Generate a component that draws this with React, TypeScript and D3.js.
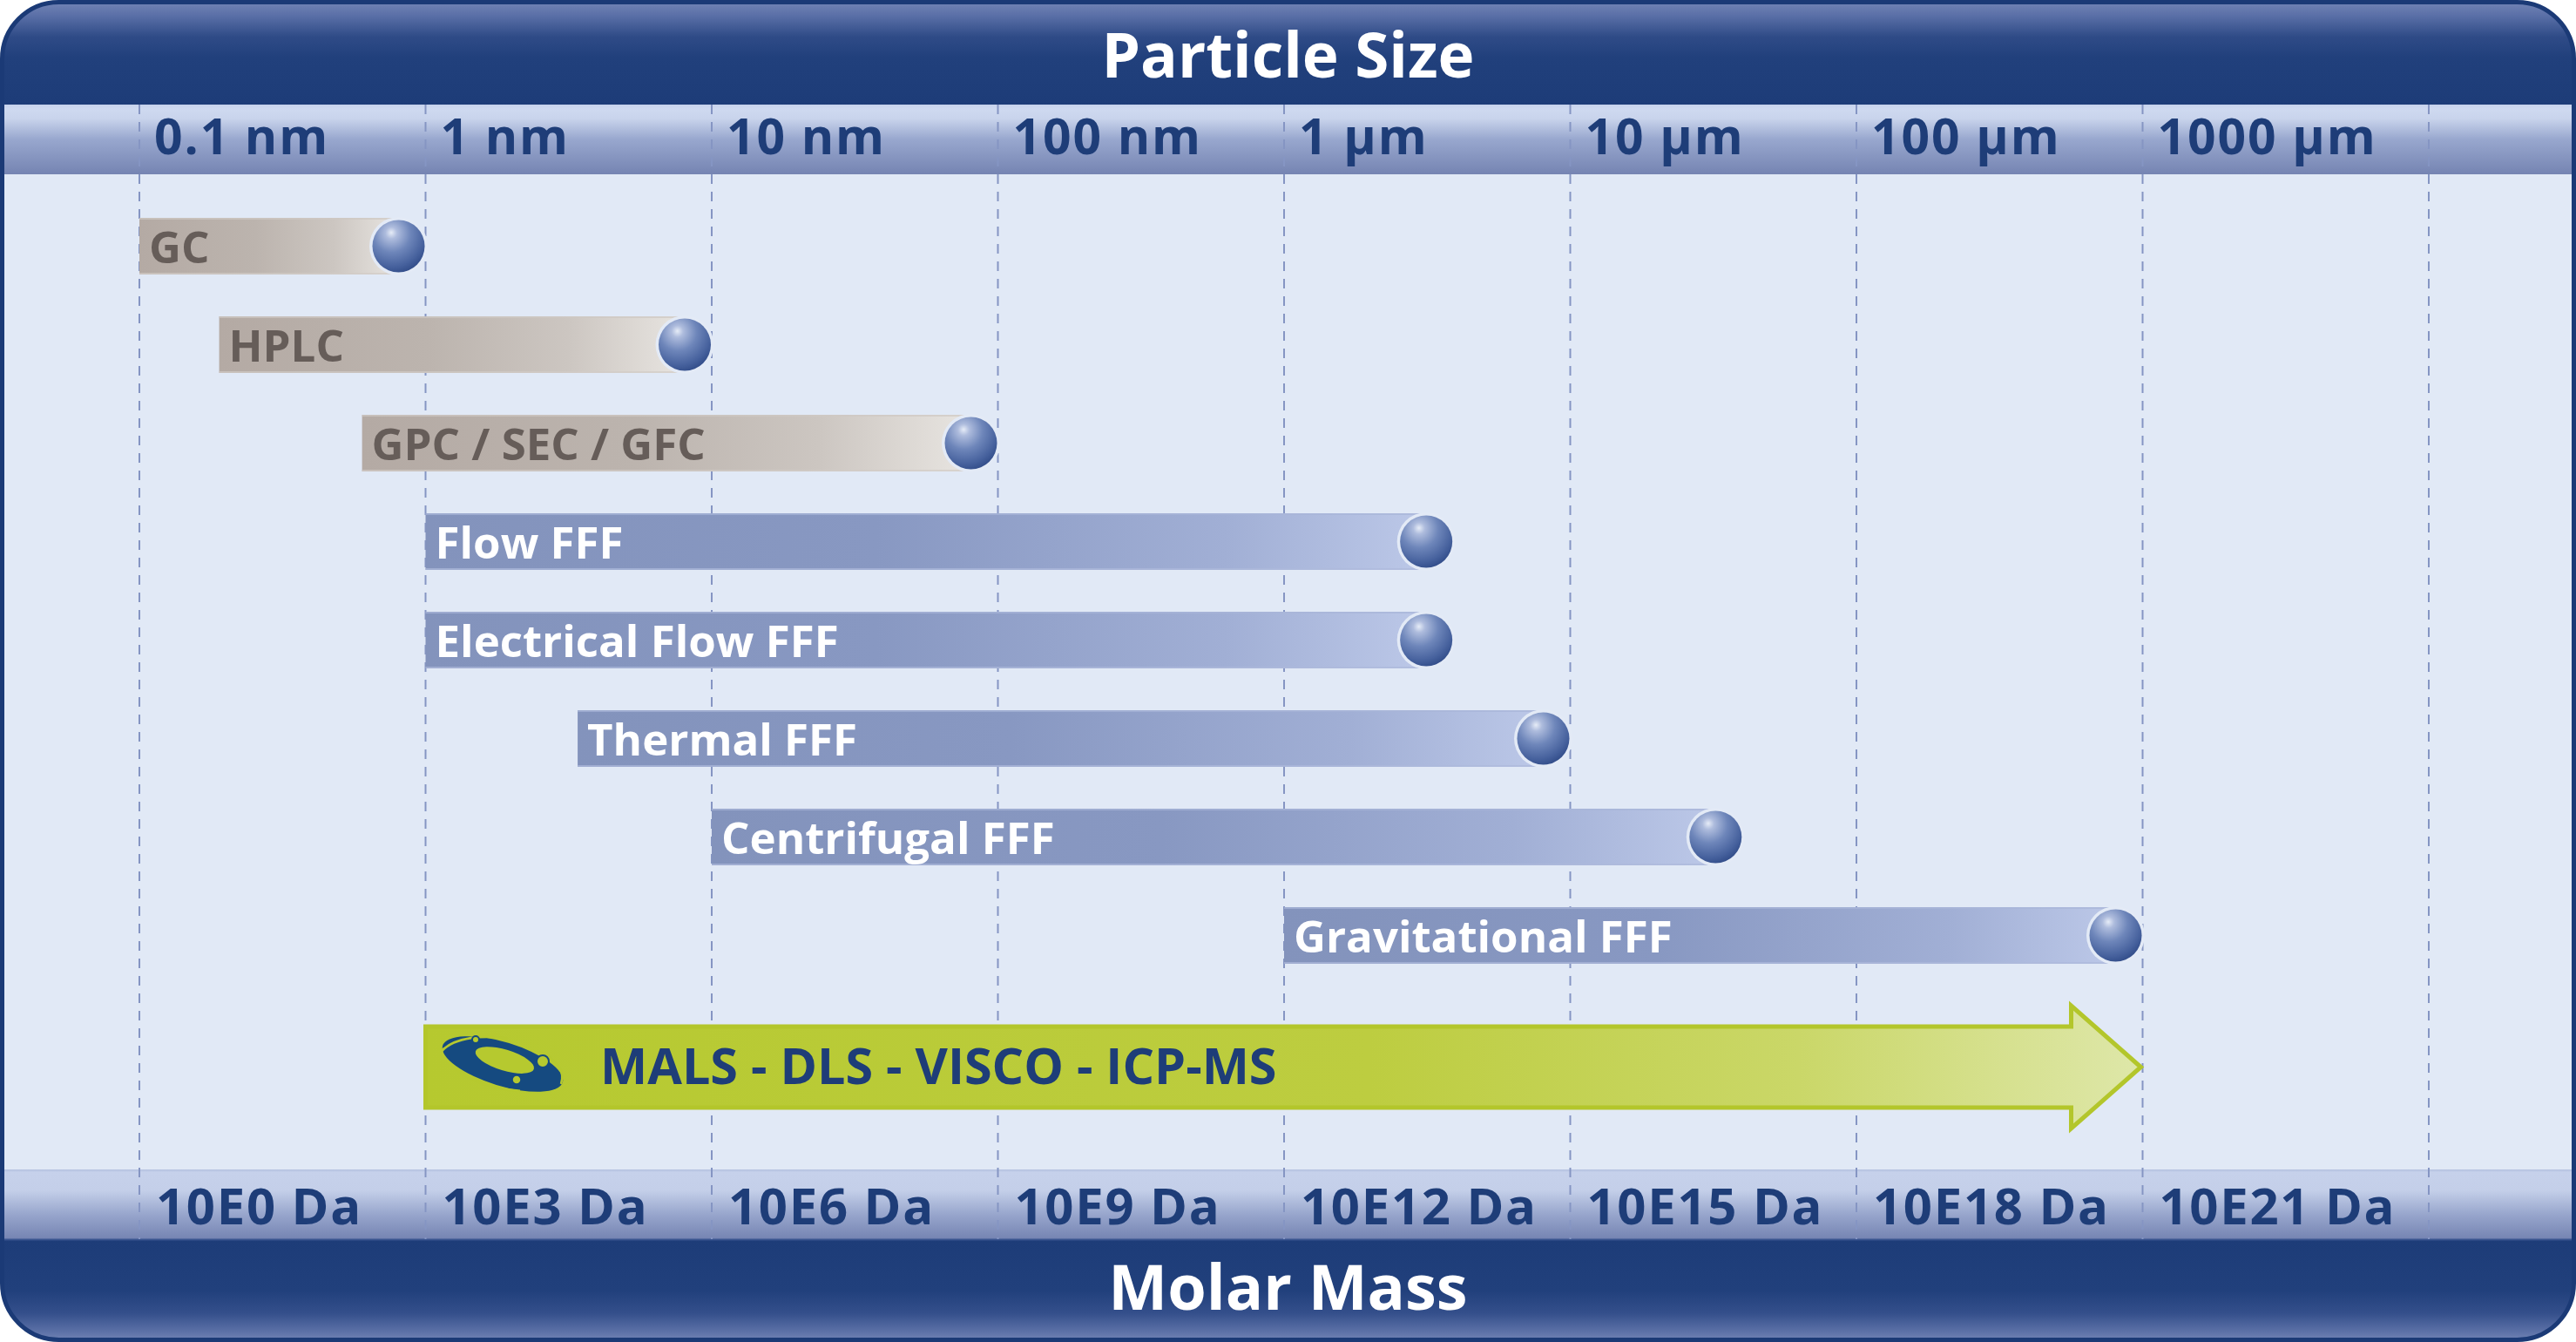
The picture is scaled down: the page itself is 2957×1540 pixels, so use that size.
import React from 'react';
import * as d3 from 'd3';

// ---- data ----
const sizeTicks = [0.1, 1, 10, 100, 1e3, 1e4, 1e5, 1e6, 1e7]; // nm
const sizeLabels = ['0.1 nm', '1 nm', '10 nm', '100 nm', '1 µm', '10 µm', '100 µm', '1000 µm'];
const massLabels = ['10E0 Da', '10E3 Da', '10E6 Da', '10E9 Da', '10E12 Da', '10E15 Da', '10E18 Da', '10E21 Da'];
const methods = ['GC', 'HPLC', 'GPC / SEC / GFC', 'Flow FFF', 'Electrical Flow FFF', 'Thermal FFF', 'Centrifugal FFF', 'Gravitational FFF'];
const methodMin = [0.1, 0.19, 0.6, 1, 1, 3.4, 10, 1000]; // nm
const methodMax = [1, 10, 100, 3900, 3900, 10000, 40000, 1e6]; // nm
const methodGroup = ['column', 'column', 'column', 'fff', 'fff', 'fff', 'fff', 'fff'];
const detectorLabel = 'MALS - DLS - VISCO - ICP-MS';
const detectorRange = [1, 1e6];
const topTitle = 'Particle Size';
const bottomTitle = 'Molar Mass';

const W = 2957;
const H = 1540;
const FONT = "'Open Sans', 'Noto Sans', sans-serif";
const NAVY = '#1E3D78';

export default function App() {
  const x = d3.scaleLog().domain([0.1, 1e7]).range([160, 2788]);
  const y = d3.scalePoint<string>().domain(methods).range([282.5, 1073.5]);
  const barH = 65;
  const R = 30;

  const headerBottom = 120;
  const topBandBottom = 200;
  const botBandTop = 1342;
  const footerTop = 1422;

  const rr = 65;
  const inset = 2.5;
  const framePath = `M${inset + rr},${inset} H${W - inset - rr} A${rr},${rr} 0 0 1 ${W - inset},${inset + rr} V${H - inset - rr} A${rr},${rr} 0 0 1 ${W - inset - rr},${H - inset} H${inset + rr} A${rr},${rr} 0 0 1 ${inset},${H - inset - rr} V${inset + rr} A${rr},${rr} 0 0 1 ${inset + rr},${inset} Z`;

  // arrow
  const ax0 = x(detectorRange[0]);
  const axTip = x(detectorRange[1]) - 2;
  const ayC = 1224.5;
  const headLen = 80;
  const bodyHalf = 46.5;
  const headHalf = 70.5;
  const arrowPath = `M${ax0},${ayC - bodyHalf} H${axTip - headLen} V${ayC - headHalf} L${axTip},${ayC} L${axTip - headLen},${ayC + headHalf} V${ayC + bodyHalf} H${ax0} Z`;

  return (
    <div style={{ position: 'absolute', left: 0, top: 0, width: W, height: H, overflow: 'hidden' }}>
      <svg width={W} height={H} style={{ display: 'block' }} fontFamily={FONT}>
        <defs>
          <clipPath id="frameClip">
            <path d={framePath} />
          </clipPath>
          <linearGradient id="headerGrad" x1="0" y1="0" x2="0" y2="1">
            <stop offset="0" stopColor="#7587B7" />
            <stop offset="0.15" stopColor="#5A6FA7" />
            <stop offset="0.35" stopColor="#2F4B87" />
            <stop offset="0.55" stopColor="#21407C" />
            <stop offset="1" stopColor="#1D3C78" />
          </linearGradient>
          <linearGradient id="footerGrad" x1="0" y1="0" x2="0" y2="1">
            <stop offset="0" stopColor="#1D3C78" />
            <stop offset="0.5" stopColor="#21407C" />
            <stop offset="0.72" stopColor="#344F8B" />
            <stop offset="0.9" stopColor="#5C71A7" />
            <stop offset="1" stopColor="#7587B7" />
          </linearGradient>
          <linearGradient id="bandGrad" x1="0" y1="0" x2="0" y2="1">
            <stop offset="0" stopColor="#C6D2EC" />
            <stop offset="0.06" stopColor="#CED9F0" />
            <stop offset="0.2" stopColor="#C9D4EC" />
            <stop offset="0.5" stopColor="#98A7CE" />
            <stop offset="1" stopColor="#7584B2" />
          </linearGradient>
          <linearGradient id="bandGrad2" x1="0" y1="0" x2="0" y2="1">
            <stop offset="0" stopColor="#B3C0DF" />
            <stop offset="0.04" stopColor="#C6D1EB" />
            <stop offset="0.3" stopColor="#C4CFE9" />
            <stop offset="0.65" stopColor="#97A5CC" />
            <stop offset="1" stopColor="#7584B2" />
          </linearGradient>
          <linearGradient id="grayGrad" x1="0" y1="0" x2="1" y2="0">
            <stop offset="0" stopColor="#B4AAA4" />
            <stop offset="0.45" stopColor="#BCB4AE" />
            <stop offset="0.75" stopColor="#CCC6C1" />
            <stop offset="1" stopColor="#E8E5E1" />
          </linearGradient>
          <linearGradient id="blueGrad" x1="0" y1="0" x2="1" y2="0">
            <stop offset="0" stopColor="#8393BC" />
            <stop offset="0.45" stopColor="#8898C2" />
            <stop offset="0.8" stopColor="#A1AFD5" />
            <stop offset="1" stopColor="#BCC8E8" />
          </linearGradient>
          <linearGradient id="greenGrad" x1="0" y1="0" x2="1" y2="0">
            <stop offset="0" stopColor="#B6C92F" />
            <stop offset="0.55" stopColor="#BDCD40" />
            <stop offset="0.8" stopColor="#CAD768" />
            <stop offset="1" stopColor="#DEE7A9" />
          </linearGradient>
          <radialGradient id="sphereGrad" cx="0.38" cy="0.28" r="0.8" fx="0.36" fy="0.24">
            <stop offset="0" stopColor="#E6ECF7" />
            <stop offset="0.14" stopColor="#AEBCDD" />
            <stop offset="0.45" stopColor="#6E86BA" />
            <stop offset="0.78" stopColor="#46619D" />
            <stop offset="1" stopColor="#2B4683" />
          </radialGradient>
        </defs>

        <g clipPath="url(#frameClip)">
          <rect x={0} y={0} width={W} height={H} fill="#E1E9F6" />
          <rect x={0} y={0} width={W} height={headerBottom} fill="url(#headerGrad)" />
          <rect x={0} y={headerBottom} width={W} height={topBandBottom - headerBottom} fill="url(#bandGrad)" />
          <rect x={0} y={botBandTop} width={W} height={footerTop - botBandTop} fill="url(#bandGrad2)" />
          <rect x={0} y={footerTop} width={W} height={H - footerTop} fill="url(#footerGrad)" />
          <line x1={0} x2={W} y1={footerTop + 0.5} y2={footerTop + 0.5} stroke="#3A5590" strokeWidth={2} />

          {/* gridlines */}
          {sizeTicks.map((t, i) => (
            <line key={'g' + i} x1={x(t)} x2={x(t)} y1={headerBottom} y2={footerTop}
              stroke="#8595C3" strokeWidth={2} strokeDasharray="11 9" />
          ))}

          {/* method bars */}
          {methods.map((m, i) => {
            const cy = y(m) as number;
            const xEnd = x(methodMax[i]);
            const sx = xEnd - R - 1;
            const x0 = x(methodMin[i]);
            const isCol = methodGroup[i] === 'column';
            return (
              <g key={m}>
                <rect x={x0} y={cy - barH / 2} width={sx - x0} height={barH}
                  fill={isCol ? 'url(#grayGrad)' : 'url(#blueGrad)'} />
                <line x1={x0} x2={sx} y1={cy - barH / 2 + 1} y2={cy - barH / 2 + 1}
                  stroke={isCol ? '#CFC9C4' : '#A9B6D9'} strokeWidth={2} opacity={0.7} />
                <line x1={x0} x2={sx} y1={cy + barH / 2 - 1} y2={cy + barH / 2 - 1}
                  stroke={isCol ? '#D2CCC7' : '#AEBADC'} strokeWidth={2} opacity={0.7} />
                <circle cx={sx} cy={cy} r={R + 3.5} fill="#E3EAF6" />
                <circle cx={sx} cy={cy} r={R} fill="url(#sphereGrad)" />
                <text x={x0 + 11} y={cy + 19} fontSize={51} fontWeight={700}
                  fill={isCol ? '#665D59' : '#FFFFFF'}>{m}</text>
              </g>
            );
          })}

          {/* detector arrow */}
          <path d={arrowPath} fill="url(#greenGrad)" stroke="#B3C62B" strokeWidth={5} strokeLinejoin="miter" />
          <g transform={`translate(577,1221)`}>
            <ellipse cx={0} cy={0} rx={72} ry={25} transform="rotate(17)" fill="#154A80" />
            <ellipse cx={1} cy={-5} rx={35} ry={12} transform="rotate(17)" fill="#B6C92F" />
            <path d="M-70,-15 C-55,-31 -20,-34 5,-29" fill="none" stroke="#B6C92F" strokeWidth={3} />
            <path d="M-60,0 C-42,18 -12,29 20,31" fill="none" stroke="#B6C92F" strokeWidth={3} />
            <path d="M42,-14 C62,-5 72,8 67,23" fill="none" stroke="#B6C92F" strokeWidth={2.5} />
            <circle cx={-31} cy={-28} r={4} fill="#B6C92F" stroke="#154A80" strokeWidth={2} />
            <circle cx={46} cy={-3} r={7} fill="#B6C92F" stroke="#154A80" strokeWidth={2} />
            <circle cx={16} cy={18} r={5} fill="#B6C92F" stroke="#154A80" strokeWidth={1.5} />
          </g>
          <text x={689} y={1244} fontSize={57.5} fontWeight={700} fill={NAVY}>{detectorLabel}</text>
        </g>

        <path d={framePath} fill="none" stroke="#1B3A76" strokeWidth={5} />

        {/* axis labels */}
        {sizeLabels.map((l, i) => (
          <text key={'s' + i} x={x(sizeTicks[i]) + 17} y={177} fontSize={57} fontWeight={700}
            letterSpacing={1.9} fill={NAVY}>{l}</text>
        ))}
        {massLabels.map((l, i) => (
          <text key={'m' + i} x={x(sizeTicks[i]) + 19} y={1405} fontSize={58} fontWeight={700}
            letterSpacing={1.7} fill={NAVY}>{l}</text>
        ))}

        <text x={W / 2} y={89} textAnchor="middle" fontSize={71} fontWeight={700} fill="#FFFFFF">{topTitle}</text>
        <text x={W / 2} y={1503} textAnchor="middle" fontSize={72} fontWeight={700} fill="#FFFFFF">{bottomTitle}</text>
      </svg>
    </div>
  );
}
